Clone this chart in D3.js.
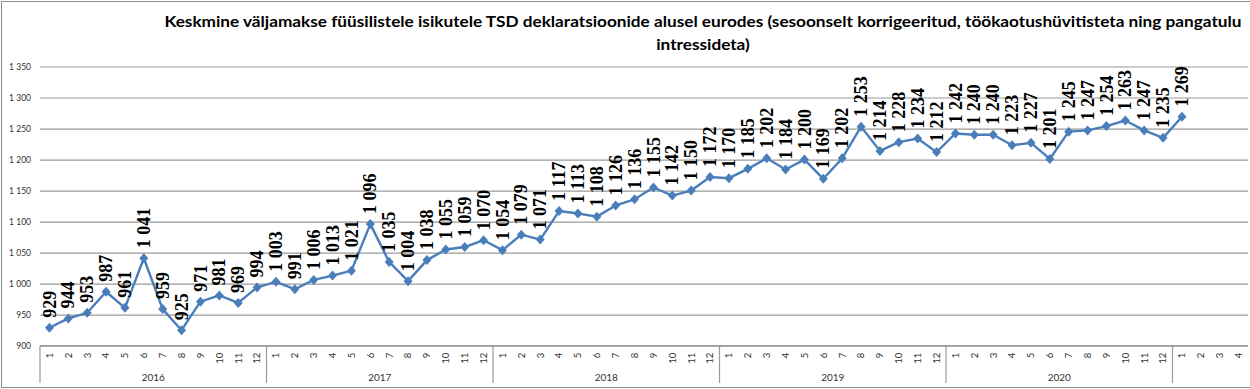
<!DOCTYPE html>
<html>
<head>
<meta charset="utf-8">
<script src="https://cdn.jsdelivr.net/npm/d3@7"></script>
<style>
  body { margin: 0; background: #fff; }
  svg { display: block; }
</style>
</head>
<body>
<div id="chart"></div>
<script>
const width = 1250;
const height = 389;

// ------------------
// DATA
// ------------------
const years = ["2016", "2017", "2018", "2019", "2020", ""];
const monthsPerYear = [12, 12, 12, 12, 12, 4];

const values2016 = [929, 944, 953, 987, 961, 1041, 959, 925, 971, 981, 969, 994];
const values2017 = [1003, 991, 1006, 1013, 1021, 1096, 1035, 1004, 1038, 1055, 1059, 1070];
const values2018 = [1054, 1079, 1071, 1117, 1113, 1108, 1126, 1136, 1155, 1142, 1150, 1172];
const values2019 = [1170, 1185, 1202, 1184, 1200, 1169, 1202, 1253, 1214, 1228, 1234, 1212];
const values2020 = [1242, 1240, 1240, 1223, 1227, 1201, 1245, 1247, 1254, 1263, 1247, 1235];
const values2021 = [1269, null, null, null];

const yTicks = [900, 950, 1000, 1050, 1100, 1150, 1200, 1250, 1300, 1350];

const titleLines = [
    "Keskmine väljamakse füüsilistele isikutele TSD deklaratsioonide alusel eurodes (sesoonselt korrigeeritud, töökaotushüvitisteta ning pangatulu",
    "intressideta)"
];

// build flat table
const allValues = [values2016, values2017, values2018, values2019, values2020, values2021];
const data = [];
allValues.forEach((arr, yi) => {
    arr.forEach((v, mi) => {
        data.push({ key: yi + "-" + (mi + 1), year: yi, month: mi + 1, value: v });
    });
});

const locale = d3.formatLocale({ decimal: ",", thousands: " ", grouping: [3], currency: ["", ""] });
const fmt = locale.format(",");

// ------------------
// SVG
// ------------------
const svg = d3.select("#chart")
    .append("svg")
    .attr("width", width)
    .attr("height", height);

svg.append("rect")
    .attr("x", 1.5).attr("y", 1.5)
    .attr("width", 1250).attr("height", 386)
    .attr("fill", "#fff")
    .attr("stroke", "#8c8c8c")
    .attr("stroke-width", 1);

const plot = { left: 40, right: 1248, top: 66.5, bottom: 345.7 };

const x = d3.scaleBand()
    .domain(data.map(d => d.key))
    .range([plot.left, plot.right]);

const y = d3.scaleLinear()
    .domain([900, 1350])
    .range([plot.bottom, plot.top]);

// ------------------
// GRID + Y AXIS
// ------------------
const yAxis = svg.append("g")
    .attr("transform", `translate(${plot.left},0)`)
    .call(d3.axisLeft(y).tickValues(yTicks).tickFormat(fmt).tickSize(-(plot.right - plot.left)).tickPadding(9));

yAxis.select(".domain").remove();
yAxis.selectAll(".tick line")
    .attr("stroke", "#9a9a9a")
    .attr("stroke-width", 1.2);
yAxis.selectAll(".tick text")
    .attr("fill", "#333")
    .style("font-family", "Lato, 'Liberation Sans', sans-serif")
    .style("font-size", "8.5px");

// ------------------
// X AXIS (months + years)
// ------------------
const xAxis = svg.append("g")
    .attr("transform", `translate(0,${plot.bottom})`)
    .call(d3.axisBottom(x).tickSize(0).tickFormat(k => k.split("-")[1]));

xAxis.select(".domain").remove();
xAxis.selectAll(".tick text")
    .attr("transform", "rotate(-90)")
    .attr("text-anchor", "end")
    .attr("x", -7)
    .attr("y", 0)
    .attr("dy", "0.35em")
    .attr("fill", "#333")
    .style("font-family", "Lato, 'Liberation Sans', sans-serif")
    .style("font-size", "9.5px");

svg.append("line")
    .attr("x1", plot.left).attr("x2", plot.right)
    .attr("y1", plot.bottom).attr("y2", plot.bottom)
    .attr("stroke", "#9a9a9a").attr("stroke-width", 1.2);

// year separators and labels
years.forEach((yr, i) => {
    const x0 = x(i + "-1");
    const x1 = x0 + x.bandwidth() * monthsPerYear[i];

    svg.append("line")
        .attr("x1", x0).attr("x2", x0)
        .attr("y1", plot.bottom).attr("y2", 383)
        .attr("stroke", "#9a9a9a").attr("stroke-width", 1.2);

    svg.append("text")
        .attr("x", (x0 + x1) / 2)
        .attr("y", 381)
        .attr("text-anchor", "middle")
        .attr("fill", "#333")
        .style("font-family", "Lato, 'Liberation Sans', sans-serif")
        .style("font-size", "10px")
        .text(yr);
});

// ------------------
// LINE + MARKERS
// ------------------
const pts = data.filter(d => d.value != null);
const cx = d => x(d.key) + x.bandwidth() / 2;

svg.append("path")
    .datum(pts)
    .attr("fill", "none")
    .attr("stroke", "#4a7ebb")
    .attr("stroke-width", 2.4)
    .attr("stroke-linejoin", "round")
    .attr("d", d3.line().x(cx).y(d => y(d.value)));

svg.selectAll(".marker")
    .data(pts)
    .enter()
    .append("path")
    .attr("class", "marker")
    .attr("transform", d => `translate(${cx(d)},${y(d.value)})`)
    .attr("d", "M0,-5L4.5,0L0,5L-4.5,0Z")
    .attr("fill", "#4a7ebb");

// ------------------
// DATA LABELS
// ------------------
svg.selectAll(".dlabel")
    .data(pts)
    .enter()
    .append("text")
    .attr("class", "dlabel")
    .attr("transform", d => `translate(${cx(d)},${y(d.value) - 10}) rotate(-90)`)
    .attr("dy", "0.34em")
    .attr("text-anchor", "start")
    .attr("fill", "#000")
    .style("font-family", "'Liberation Serif', 'Times New Roman', serif")
    .style("font-weight", "bold")
    .style("font-size", "18px")
    .text(d => fmt(d.value));

// ------------------
// TITLE (stretched to the reference width)
// ------------------
const titleG = svg.append("g");
const titles = titleG.selectAll(".title")
    .data(titleLines)
    .enter()
    .append("text")
    .attr("class", "title")
    .attr("x", 0)
    .attr("y", (d, i) => 27 + i * 23)
    .attr("text-anchor", "middle")
    .attr("fill", "#000")
    .style("font-family", "Lato, 'Liberation Sans', sans-serif")
    .style("font-weight", "bold")
    .style("font-size", "15px")
    .text(d => d);

const lineLen = titles.nodes()[0].getComputedTextLength();
const sx = 1078 / lineLen;
titleG.attr("transform", `translate(703,0) scale(${sx},1)`);
</script>
</body>
</html>
